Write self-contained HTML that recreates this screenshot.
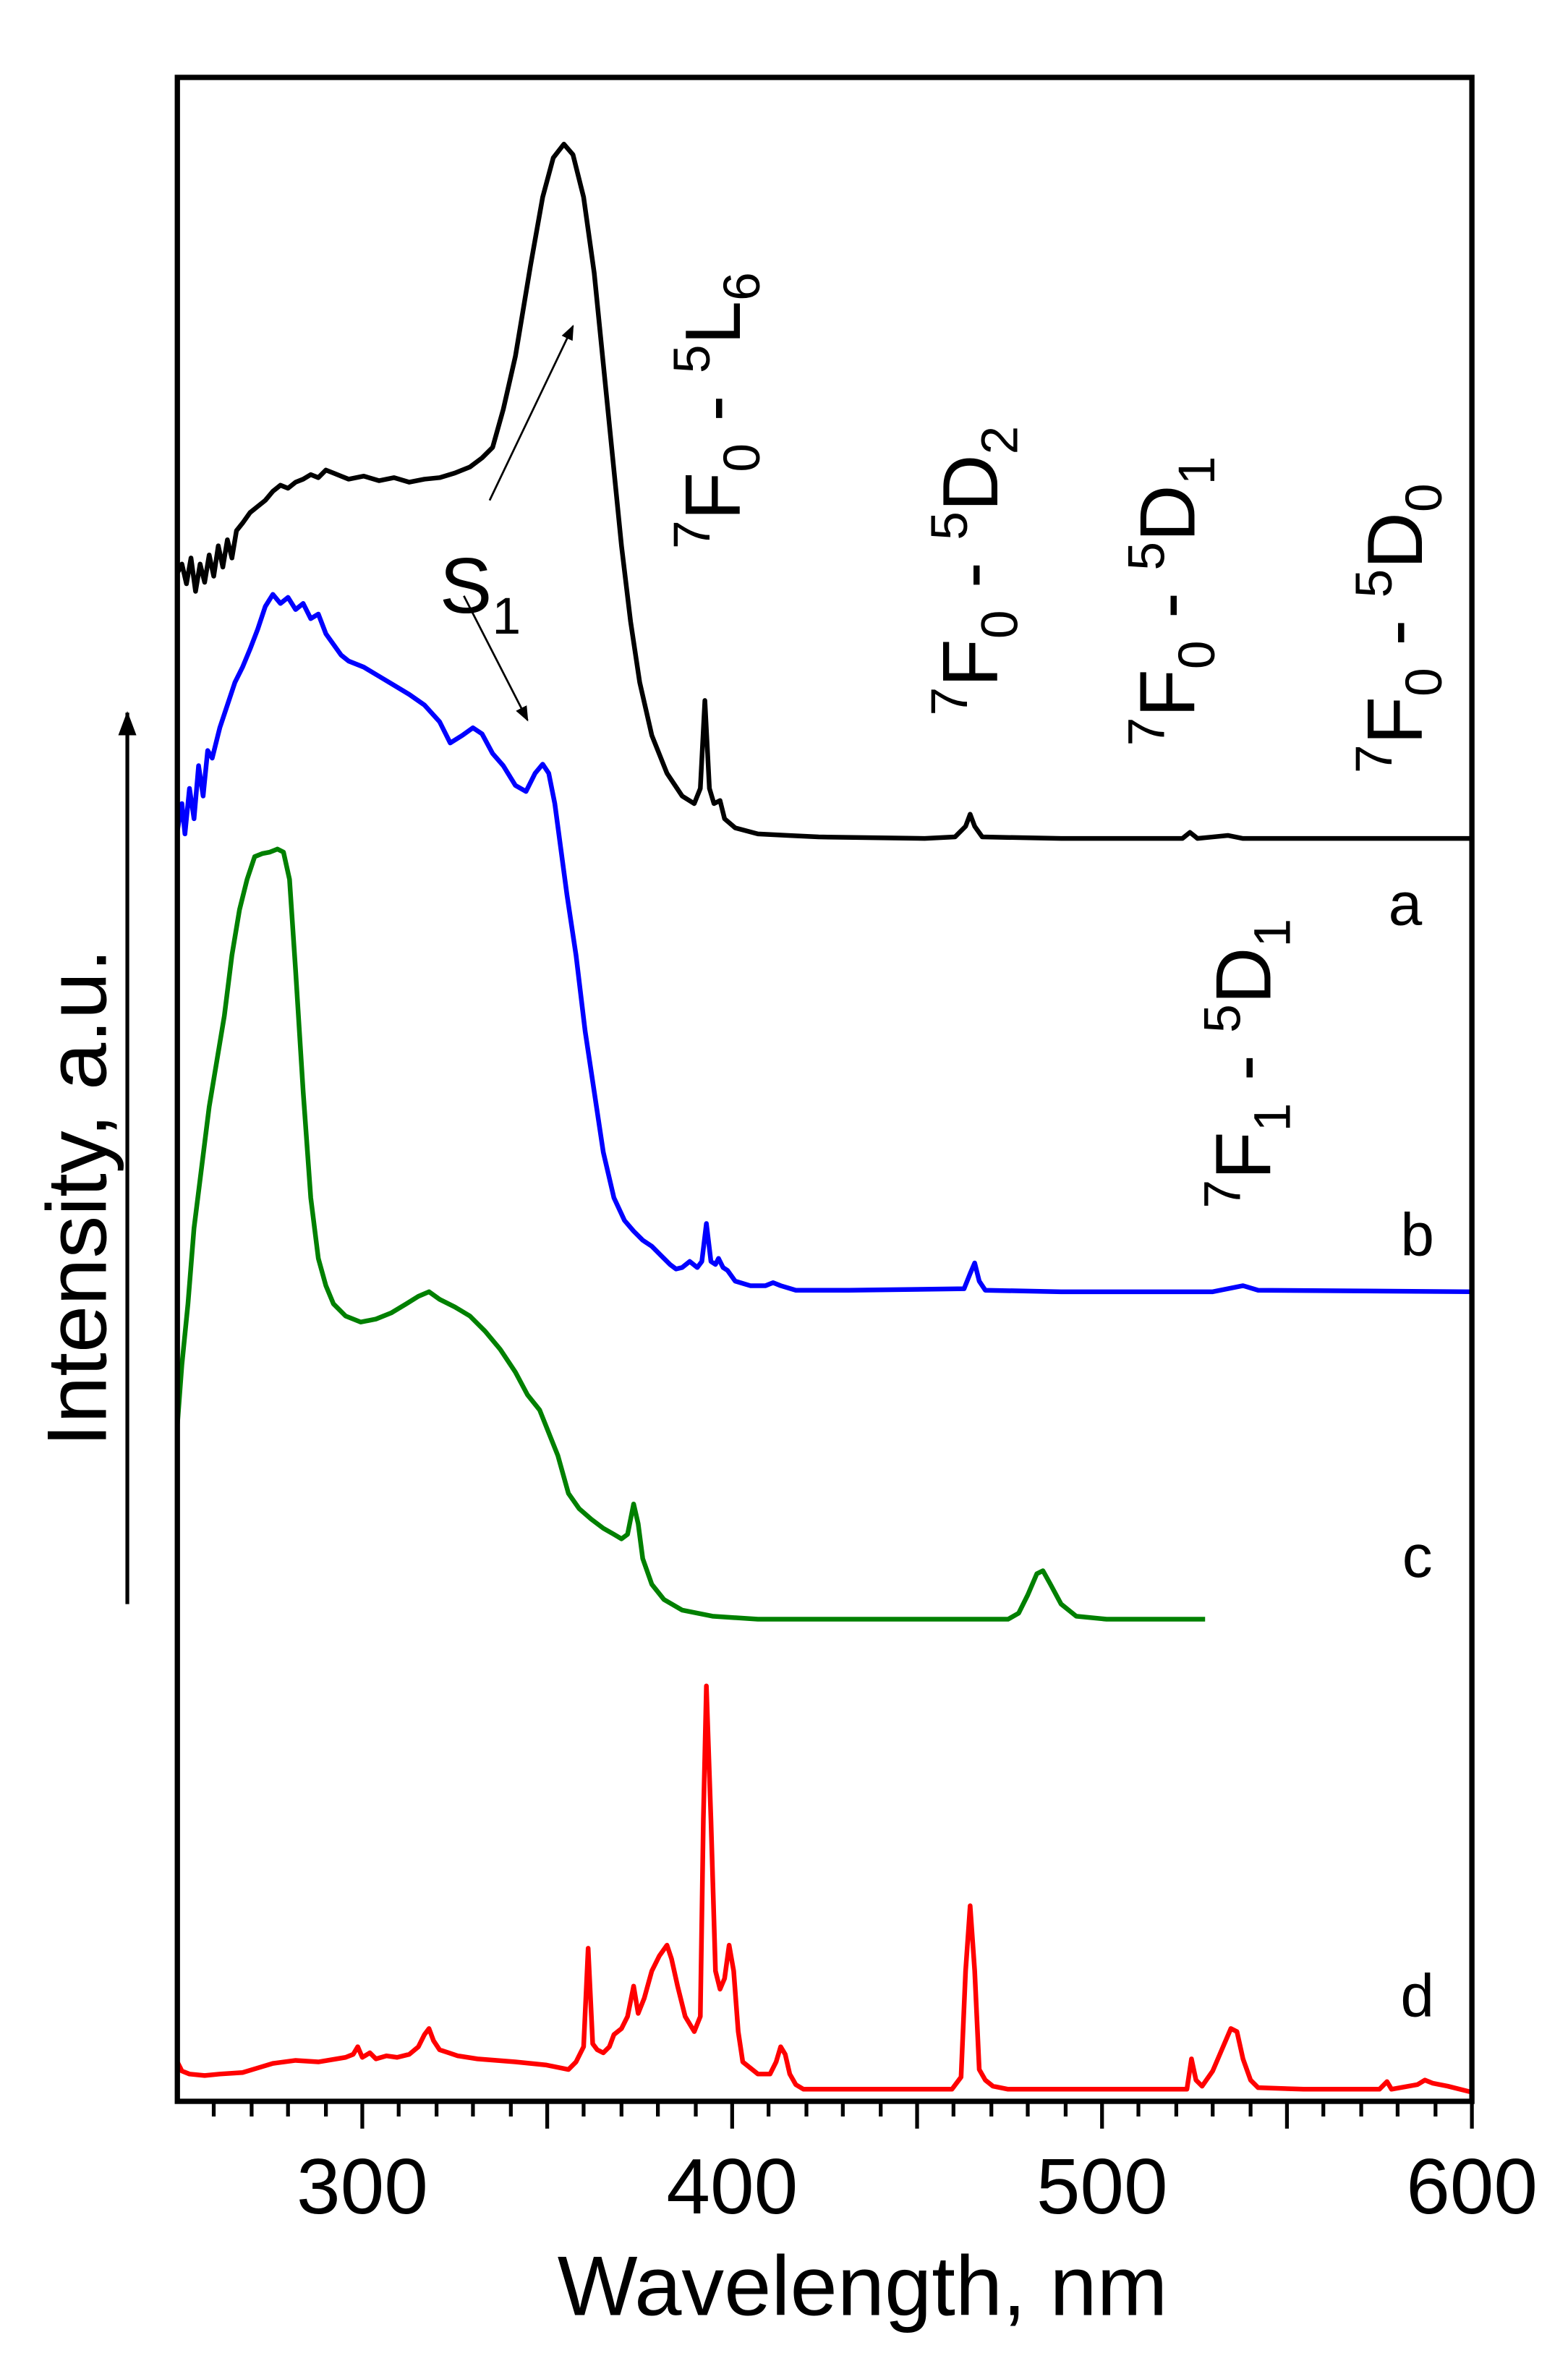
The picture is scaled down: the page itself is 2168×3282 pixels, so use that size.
<!DOCTYPE html>
<html><head><meta charset="utf-8"><style>html,body{margin:0;padding:0;background:#fff}svg{display:block}</style></head>
<body>
<svg width="2168" height="3282" viewBox="0 0 1034.4 1565.8" xmlns="http://www.w3.org/2000/svg" font-family="Liberation Sans, Arial, sans-serif">
<defs>
<marker id="ah" markerWidth="10" markerHeight="10" refX="9" refY="5" orient="auto" markerUnits="userSpaceOnUse"><path d="M0,1 L10,5 L0,9 z" fill="#000"/></marker>
<marker id="ah2" markerWidth="16" markerHeight="12" refX="15" refY="6" orient="auto" markerUnits="userSpaceOnUse"><path d="M0,0 L16,6 L0,12 z" fill="#000"/></marker>
</defs>
<rect width="1034.4" height="1565.8" fill="#fff"/>
<g fill="none" stroke-width="3.1" stroke-linejoin="round">
<polyline stroke="#000" points="117,378 120,372 123,385 126,368 129,390 132,372 135,384 138,366 141,380 144,360 147,374 150,356 153,368 156,350 160,345 165,338 170,334 175,330 180,324 185,320 190,322 195,318 200,316 205,313 210,315 215,310 220,312 225,314 230,316 240,314 250,317 260,315 270,318 280,316 290,315 300,312 310,308 318,302 325,295 332,270 340,235 350,175 358,130 365,104 372,95 378,102 385,130 392,180 398,240 404,300 410,360 416,410 422,450 430,485 440,510 450,525 458,530 462,520 465,462 468,520 471,530 475,528 478,540 485,546 500,550 520,551 540,552 610,553 630,552 637,545 640,537 643,545 648,552 700,553 780,553 785,549 790,553 800,552 810,551 820,553 971,553"/>
<polyline stroke="#00f" points="117,548 120,530 122,550 125,520 128,540 131,505 134,525 137,495 140,500 145,480 150,465 155,450 160,440 165,428 170,415 175,400 180,392 185,398 190,394 195,402 200,398 205,408 210,405 215,418 220,425 225,432 230,436 240,440 250,446 260,452 270,458 280,465 290,476 297,490 305,485 312,480 318,484 325,497 332,505 340,518 347,522 353,510 358,504 362,510 366,530 370,560 374,590 380,630 386,680 392,720 398,760 405,790 412,805 418,812 424,818 430,822 436,828 442,834 446,837 450,836 455,832 460,836 463,832 466,807 469,832 472,834 474,830 477,836 480,838 485,845 495,848 505,848 510,846 515,848 525,851 560,851 636,850 640,840 643,833 646,845 650,851 700,852 800,852 820,848 830,851 971,852"/>
<polyline stroke="#008000" points="117,940 120,900 124,860 128,810 133,770 138,730 143,700 148,670 153,630 158,600 163,580 168,565 173,563 178,562 183,560 187,562 191,580 195,640 200,720 205,790 210,830 215,848 220,860 228,868 238,872 248,870 258,866 268,860 276,855 283,852 290,857 300,862 310,868 320,878 330,890 340,905 348,920 356,930 362,945 368,960 375,985 382,995 390,1002 398,1008 405,1012 410,1015 414,1012 418,992 421,1005 424,1028 430,1045 438,1055 450,1062 470,1066 500,1068 600,1068 665,1068 672,1064 678,1052 684,1038 688,1036 693,1045 700,1058 710,1066 730,1068 795,1068"/>
<polyline stroke="#f00" points="117,1360 120,1366 125,1368 135,1369 145,1368 160,1367 170,1364 180,1361 195,1359 210,1360 228,1357 233,1355 236,1350 239,1357 244,1354 248,1358 255,1356 262,1357 270,1355 276,1350 280,1342 283,1338 286,1346 290,1352 296,1354 302,1356 315,1358 340,1360 360,1362 375,1365 380,1360 385,1350 388,1285 391,1348 394,1352 398,1354 402,1350 405,1342 410,1338 414,1330 418,1310 421,1328 425,1318 430,1300 435,1290 440,1283 443,1292 447,1310 452,1330 458,1340 462,1330 464,1200 466,1112 469,1200 472,1300 475,1312 478,1305 481,1283 484,1300 487,1340 490,1360 495,1364 500,1368 508,1368 512,1360 515,1350 518,1355 521,1368 525,1375 530,1378 560,1378 628,1378 634,1370 637,1300 640,1257 643,1300 646,1365 650,1372 655,1376 665,1378 740,1378 783,1378 786,1358 789,1372 793,1376 800,1366 806,1352 812,1338 816,1340 820,1358 825,1372 830,1377 860,1378 910,1378 915,1373 918,1378 935,1375 940,1372 945,1374 955,1376 971,1380"/>
</g>
<rect x="117" y="51" width="854" height="1335" fill="none" stroke="#000" stroke-width="3.5"/>
<g stroke="#000" stroke-width="2.5">
<line x1="239" y1="1386" x2="239" y2="1404"/><line x1="361" y1="1386" x2="361" y2="1404"/><line x1="483" y1="1386" x2="483" y2="1404"/><line x1="605" y1="1386" x2="605" y2="1404"/><line x1="727" y1="1386" x2="727" y2="1404"/><line x1="849" y1="1386" x2="849" y2="1404"/><line x1="971" y1="1386" x2="971" y2="1404"/>
<line x1="141" y1="1386" x2="141" y2="1396"/><line x1="166" y1="1386" x2="166" y2="1396"/><line x1="190" y1="1386" x2="190" y2="1396"/><line x1="215" y1="1386" x2="215" y2="1396"/>
<line x1="263" y1="1386" x2="263" y2="1396"/><line x1="288" y1="1386" x2="288" y2="1396"/><line x1="312" y1="1386" x2="312" y2="1396"/><line x1="337" y1="1386" x2="337" y2="1396"/>
<line x1="385" y1="1386" x2="385" y2="1396"/><line x1="410" y1="1386" x2="410" y2="1396"/><line x1="434" y1="1386" x2="434" y2="1396"/><line x1="459" y1="1386" x2="459" y2="1396"/>
<line x1="507" y1="1386" x2="507" y2="1396"/><line x1="532" y1="1386" x2="532" y2="1396"/><line x1="556" y1="1386" x2="556" y2="1396"/><line x1="581" y1="1386" x2="581" y2="1396"/>
<line x1="629" y1="1386" x2="629" y2="1396"/><line x1="654" y1="1386" x2="654" y2="1396"/><line x1="678" y1="1386" x2="678" y2="1396"/><line x1="703" y1="1386" x2="703" y2="1396"/>
<line x1="751" y1="1386" x2="751" y2="1396"/><line x1="776" y1="1386" x2="776" y2="1396"/><line x1="800" y1="1386" x2="800" y2="1396"/><line x1="825" y1="1386" x2="825" y2="1396"/>
<line x1="873" y1="1386" x2="873" y2="1396"/><line x1="898" y1="1386" x2="898" y2="1396"/><line x1="922" y1="1386" x2="922" y2="1396"/><line x1="947" y1="1386" x2="947" y2="1396"/>
</g>
<g font-size="52" text-anchor="middle" fill="#000">
<text x="239" y="1460">300</text><text x="483" y="1460">400</text><text x="727" y="1460">500</text><text x="971" y="1460">600</text>
</g>
<text x="569" y="1527" font-size="56" text-anchor="middle">Wavelength, nm</text>
<text transform="translate(70,790) rotate(-90)" font-size="56" text-anchor="middle">Intensity, a.u.</text>
<line x1="84" y1="1058" x2="84" y2="470" stroke="#000" stroke-width="2.5" marker-end="url(#ah2)"/>
<line x1="323" y1="330" x2="378" y2="215" stroke="#000" stroke-width="1.3" marker-end="url(#ah)"/>
<line x1="306" y1="393" x2="348" y2="475" stroke="#000" stroke-width="1.3" marker-end="url(#ah)"/>
<text x="290" y="404" font-size="52">S<tspan font-size="34" dy="14">1</tspan></text>
<g font-size="52" fill="#000">
<text transform="translate(488,362) rotate(-90)"><tspan font-size="34" dy="-20">7</tspan><tspan dy="20">F</tspan><tspan font-size="34" dy="13">0</tspan><tspan dy="-13"> - </tspan><tspan font-size="34" dy="-20">5</tspan><tspan dy="20">L</tspan><tspan font-size="34" dy="13">6</tspan></text>
<text transform="translate(658,472) rotate(-90)"><tspan font-size="34" dy="-20">7</tspan><tspan dy="20">F</tspan><tspan font-size="34" dy="13">0</tspan><tspan dy="-13"> - </tspan><tspan font-size="34" dy="-20">5</tspan><tspan dy="20">D</tspan><tspan font-size="34" dy="13">2</tspan></text>
<text transform="translate(788,492) rotate(-90)"><tspan font-size="34" dy="-20">7</tspan><tspan dy="20">F</tspan><tspan font-size="34" dy="13">0</tspan><tspan dy="-13"> - </tspan><tspan font-size="34" dy="-20">5</tspan><tspan dy="20">D</tspan><tspan font-size="34" dy="13">1</tspan></text>
<text transform="translate(938,510) rotate(-90)"><tspan font-size="34" dy="-20">7</tspan><tspan dy="20">F</tspan><tspan font-size="34" dy="13">0</tspan><tspan dy="-13"> - </tspan><tspan font-size="34" dy="-20">5</tspan><tspan dy="20">D</tspan><tspan font-size="34" dy="13">0</tspan></text>
<text transform="translate(838,797) rotate(-90)"><tspan font-size="34" dy="-20">7</tspan><tspan dy="20">F</tspan><tspan font-size="34" dy="13">1</tspan><tspan dy="-13"> - </tspan><tspan font-size="34" dy="-20">5</tspan><tspan dy="20">D</tspan><tspan font-size="34" dy="13">1</tspan></text>
</g>
<g font-size="40" fill="#000" text-anchor="middle">
<text x="927" y="610">a</text><text x="935" y="828">b</text><text x="935" y="1040">c</text><text x="935" y="1330">d</text>
</g>
</svg>
</body></html>
